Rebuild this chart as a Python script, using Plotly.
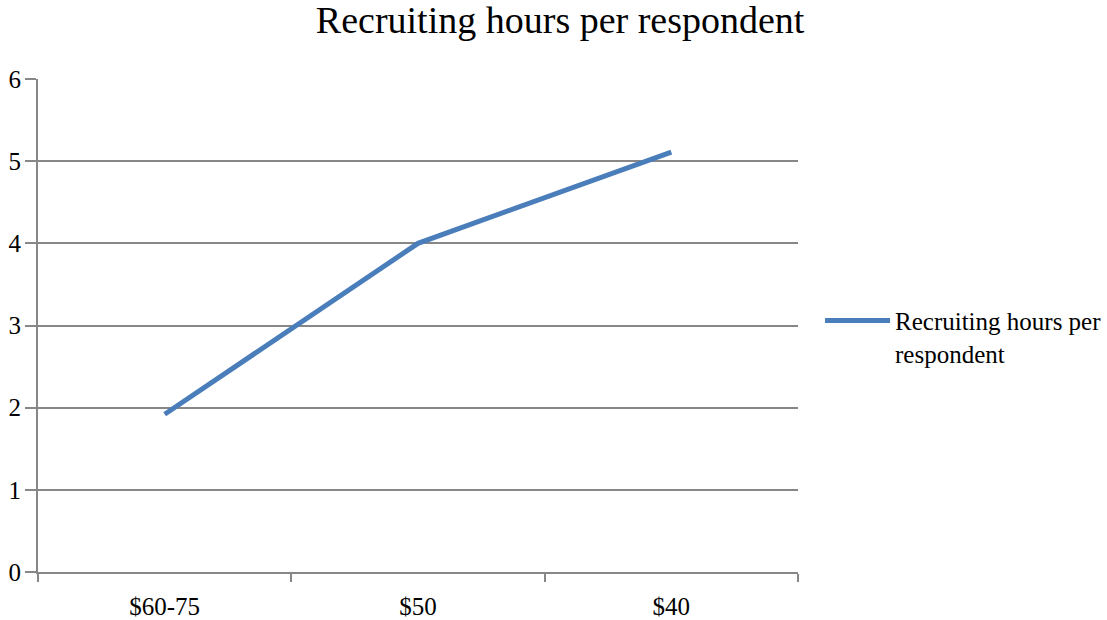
import plotly.graph_objects as go

categories = ["$60-75", "$50", "$40"]
hours = [1.92, 4.0, 5.11]
series_name = "Recruiting hours per<br>respondent"
title_text = "Recruiting hours per respondent"
y_ticks = [0, 1, 2, 3, 4, 5, 6]

FONT = "Liberation Serif"
GRID = "#878787"

fig = go.Figure()
fig.add_trace(go.Scatter(
    x=categories, y=hours, mode="lines", name=series_name,
    line=dict(color="#4a7ebb", width=5),
))

fig.update_layout(
    width=1107, height=620,
    margin=dict(l=38, r=309, t=79, b=48, autoexpand=False),
    paper_bgcolor="white", plot_bgcolor="white",
    font=dict(family=FONT, size=25, color="black"),
    title=dict(text=title_text, x=0.506, xanchor="center", y=0.968, yanchor="middle",
               font=dict(family=FONT, size=38, color="black")),
    showlegend=True,
    legend=dict(x=1.029, xanchor="left", y=0.477, yanchor="middle", valign="top",
                itemwidth=65, tracegroupgap=0,
                font=dict(family=FONT, size=25, color="black"), bgcolor="rgba(0,0,0,0)"),
    xaxis=dict(type="category", range=[-0.5, 2.5], showgrid=False, automargin=False,
               showline=True, linecolor=GRID, linewidth=2,
               ticks="", tickfont=dict(size=25), ticklabelstandoff=11, zeroline=False),
    yaxis=dict(range=[0, 6], tickvals=y_ticks, showgrid=True, gridcolor=GRID, gridwidth=2,
               automargin=False,
               showline=True, linecolor=GRID, linewidth=2, ticks="outside", ticklen=11,
               tickcolor=GRID, tickwidth=2, zeroline=False, tickfont=dict(size=25),
               ticklabelstandoff=-1),
)

# category boundary tick marks on x-axis
fig.update_xaxes(minor=dict(ticks="outside", ticklen=8, tickcolor=GRID, tickwidth=2,
                            tickvals=[-0.5, 0.5, 1.5, 2.5], showgrid=False))

fig.write_html("out.html")
